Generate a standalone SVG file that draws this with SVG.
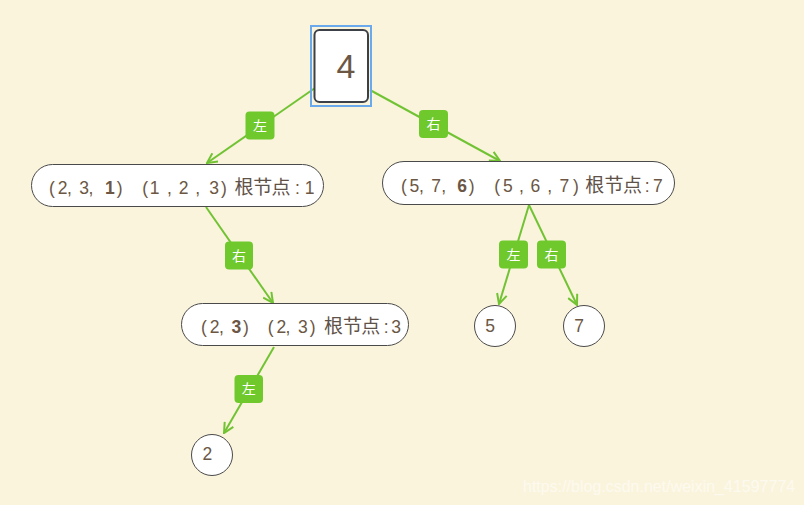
<svg xmlns="http://www.w3.org/2000/svg" width="804" height="505" viewBox="0 0 804 505">
<style>
.bg{fill:#faf4dd}
.pill{fill:#ffffff;stroke:#4a4a4a;stroke-width:1}
.txt{font-family:"Liberation Sans",Arial,sans-serif;font-size:17.5px;fill:#6b5744}
.cjk{font-family:"Noto Sans CJK SC","Microsoft YaHei",sans-serif;font-size:19px;fill:#5f5249}
.b{font-weight:bold}
.edge{stroke:#72c334;stroke-width:2;fill:none}
.lblbox{fill:#6fc82c}
.lbl{font-family:"Noto Sans CJK SC",sans-serif;font-size:14px;fill:#ffffff;text-anchor:middle}
</style>
<defs>
<marker id="arr" viewBox="0 0 12 12" refX="11" refY="6" markerWidth="12" markerHeight="12" markerUnits="userSpaceOnUse" orient="auto">
<path d="M1,1 L11,6 L1,11" fill="none" stroke="#72c334" stroke-width="2"/>
</marker>
</defs>
<rect class="bg" x="0" y="0" width="804" height="505"/>

<g id="connectors">
<line class="edge" x1="315" y1="88" x2="207" y2="163" marker-end="url(#arr)"/>
<line class="edge" x1="370" y1="90" x2="500" y2="161" marker-end="url(#arr)"/>
<line class="edge" x1="206" y1="207" x2="273" y2="303" marker-end="url(#arr)"/>
<line class="edge" x1="274" y1="347" x2="224" y2="433" marker-end="url(#arr)"/>
<line class="edge" x1="529" y1="205" x2="499" y2="304" marker-end="url(#arr)"/>
<line class="edge" x1="529" y1="205" x2="577" y2="305" marker-end="url(#arr)"/>
<g id="lbl1"><rect class="lblbox" x="245.5" y="111.5" width="29" height="28" rx="4"/><text class="lbl" x="260" y="130.5">左</text></g>
<g id="lbl2"><rect class="lblbox" x="419" y="110" width="29" height="28" rx="4"/><text class="lbl" x="433.5" y="129">右</text></g>
<g id="lbl3"><rect class="lblbox" x="225" y="241.5" width="28" height="28" rx="4"/><text class="lbl" x="239" y="260.5">右</text></g>
<g id="lbl4"><rect class="lblbox" x="234.5" y="375" width="28.5" height="28" rx="4"/><text class="lbl" x="248.8" y="394">左</text></g>
<g id="lbl5"><rect class="lblbox" x="499" y="240.5" width="29" height="28" rx="4"/><text class="lbl" x="513.5" y="259.5">左</text></g>
<g id="lbl6"><rect class="lblbox" x="537" y="240.5" width="29" height="28" rx="4"/><text class="lbl" x="551.5" y="259.5">右</text></g>
</g>

<g id="root">
<rect x="311" y="26" width="60" height="80" fill="none" stroke="#6aa9ec" stroke-width="2"/>
<rect x="314.5" y="30" width="53.5" height="72" rx="5" fill="#ffffff" stroke="#3c4148" stroke-width="2"/>
<text x="336.6" y="78" font-family="Liberation Sans, Arial, sans-serif" font-size="34" fill="#6b5744">4</text>
</g>

<g id="node1">
<rect class="pill" x="31.5" y="164.5" width="292" height="42" rx="21"/>
<text class="txt" y="194" x="49 57.8 66.9 72 79.3 88.6 95 105.1 116.7 125 142.3 149.8 162 166.9 174 178.8 192 195.3 203 209.3 221.1 228 234.5 253.2 271.5 291 295.1 300 304.8">(2, 3, <tspan class="b">1</tspan>) (1 , 2 , 3) <tspan class="cjk">根节点</tspan> : 1</text>
</g>

<g id="node2">
<rect class="pill" x="382.5" y="161.5" width="292" height="43" rx="21.5"/>
<text class="txt" y="192" x="401 409.6 418.9 424 431.2 441.3 447 457.3 468.7 476 494.3 503 514 518.9 525 530.5 543 547.3 554 559.5 573.1 580 585.3 604.5 623 644.7 650 652.9">(5, 7, <tspan class="b">6</tspan>) (5 , 6 , 7) <tspan class="cjk">根节点</tspan>: 7</text>
</g>

<g id="node3">
<rect class="pill" x="181.5" y="303.5" width="227" height="42" rx="21"/>
<text class="txt" y="333" x="201 209.8 218.9 224 231.5 243.1 250 267.7 276.5 285.6 291 298 309.7 317 324 343 361.3 383.7 389 391.3">(2, <tspan class="b">3</tspan>) (2, 3) <tspan class="cjk">根节点</tspan>: 3</text>
</g>

<g id="n5">
<circle cx="495" cy="326" r="20.5" fill="#ffffff" stroke="#4a4a4a" stroke-width="1"/>
<text class="txt" x="485.3" y="331.5" font-size="18">5</text>
</g>
<g id="n7">
<circle cx="584" cy="326" r="20.5" fill="#ffffff" stroke="#4a4a4a" stroke-width="1"/>
<text class="txt" x="574.2" y="331.5" font-size="18">7</text>
</g>
<g id="n2">
<circle cx="212" cy="455" r="20.5" fill="#ffffff" stroke="#4a4a4a" stroke-width="1"/>
<text class="txt" x="202.5" y="460" font-size="18">2</text>
</g>

<text x="523" y="492" font-family="Liberation Sans, Arial, sans-serif" font-size="16" fill="#ffffff" fill-opacity="0.55">https://blog.csdn.net/weixin_41597774</text>
</svg>
